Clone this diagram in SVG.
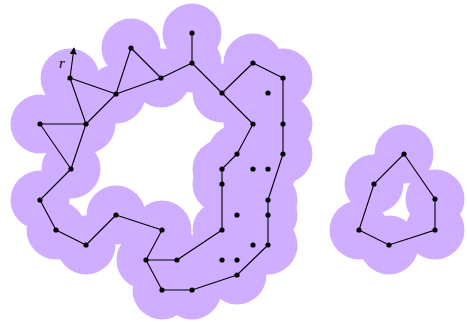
<svg xmlns="http://www.w3.org/2000/svg" width="467" height="322" viewBox="0 0 467 322">
<style>
.disc{fill:#cfaeff;stroke:none}
.e{stroke:#000;stroke-width:1.1;fill:none}
.pt{fill:#000}
.lbl{font-family:"Liberation Serif",serif;font-style:italic;font-size:15px;fill:#000}
</style>
<defs>
<marker id="ah" viewBox="0 0 10 10" refX="9" refY="5" markerWidth="7" markerHeight="7" orient="auto" markerUnits="userSpaceOnUse"><path d="M0,0 L10,5 L0,10 z" fill="#000"/></marker>
<g id="d"><circle r="29.5" class="disc"/></g>
</defs>
<g id="regions">
<use href="#d" x="70" y="78"/><use href="#d" x="131" y="48"/><use href="#d" x="116" y="94"/><use href="#d" x="86" y="124"/><use href="#d" x="40" y="124"/><use href="#d" x="161" y="78"/><use href="#d" x="192" y="33"/><use href="#d" x="192" y="63"/><use href="#d" x="222" y="93"/><use href="#d" x="253" y="63"/><use href="#d" x="283" y="78"/><use href="#d" x="268" y="93"/><use href="#d" x="253" y="124"/><use href="#d" x="283" y="124"/><use href="#d" x="237" y="154"/><use href="#d" x="283" y="154"/><use href="#d" x="222" y="169"/><use href="#d" x="253" y="169"/><use href="#d" x="268" y="169"/><use href="#d" x="222" y="184"/><use href="#d" x="268" y="200"/><use href="#d" x="237" y="215"/><use href="#d" x="268" y="215"/><use href="#d" x="222" y="230"/><use href="#d" x="162" y="230"/><use href="#d" x="253" y="245"/><use href="#d" x="268" y="245"/><use href="#d" x="146" y="260"/><use href="#d" x="177" y="260"/><use href="#d" x="222" y="260"/><use href="#d" x="237" y="260"/><use href="#d" x="237" y="275"/><use href="#d" x="162" y="290"/><use href="#d" x="192" y="290"/><use href="#d" x="71" y="169"/><use href="#d" x="40" y="200"/><use href="#d" x="56" y="230"/><use href="#d" x="86" y="245"/><use href="#d" x="116" y="215"/>
<use href="#d" x="404" y="154"/><use href="#d" x="374" y="184"/><use href="#d" x="435" y="199"/><use href="#d" x="359" y="230"/><use href="#d" x="435" y="230"/><use href="#d" x="389" y="245"/>
</g>
<g id="connectors" class="e">
<path d="M70,78 L116,94 M70,78 L86,124 M86,124 L116,94 M116,94 L131,48 M131,48 L161,78 M116,94 L161,78 M40,124 L86,124 M40,124 L71,169 M86,124 L71,169 M161,78 L192,63 M192,63 L192,33 M192,63 L222,93 M222,93 L253,63 M253,63 L283,78 M283,78 L283,124 M283,124 L283,154 M222,93 L253,124 M253,124 L237,154 M237,154 L222,169 M222,169 L222,184 M222,184 L222,230 M222,230 L177,260 M177,260 L146,260 M146,260 L162,230 M162,230 L116,215 M146,260 L162,290 M162,290 L192,290 M192,290 L237,275 M237,275 L268,245 M268,245 L268,215 M268,215 L268,200 M268,200 L283,154 M71,169 L40,200 M40,200 L56,230 M56,230 L86,245 M86,245 L116,215"/>
<path d="M404,154 L374,184 L359,230 L389,245 L435,230 L435,199 Z"/>
<line x1="70" y1="78" x2="74" y2="48" marker-end="url(#ah)"/>
</g>
<text class="lbl" x="59" y="68">r</text>
<g id="nodes" class="pt">
<g id="n1"><circle cx="70" cy="78" r="2.6"/></g>
<g id="n2"><circle cx="131" cy="48" r="2.6"/></g>
<g id="n3"><circle cx="116" cy="94" r="2.6"/></g>
<g id="n4"><circle cx="86" cy="124" r="2.6"/></g>
<g id="n5"><circle cx="40" cy="124" r="2.6"/></g>
<g id="n6"><circle cx="161" cy="78" r="2.6"/></g>
<g id="n7"><circle cx="192" cy="33" r="2.6"/></g>
<g id="n8"><circle cx="192" cy="63" r="2.6"/></g>
<g id="n9"><circle cx="222" cy="93" r="2.6"/></g>
<g id="n10"><circle cx="253" cy="63" r="2.6"/></g>
<g id="n11"><circle cx="283" cy="78" r="2.6"/></g>
<g id="n12"><circle cx="268" cy="93" r="2.6"/></g>
<g id="n13"><circle cx="253" cy="124" r="2.6"/></g>
<g id="n14"><circle cx="283" cy="124" r="2.6"/></g>
<g id="n15"><circle cx="237" cy="154" r="2.6"/></g>
<g id="n16"><circle cx="283" cy="154" r="2.6"/></g>
<g id="n17"><circle cx="222" cy="169" r="2.6"/></g>
<g id="n18"><circle cx="253" cy="169" r="2.6"/></g>
<g id="n19"><circle cx="268" cy="169" r="2.6"/></g>
<g id="n20"><circle cx="222" cy="184" r="2.6"/></g>
<g id="n21"><circle cx="268" cy="200" r="2.6"/></g>
<g id="n22"><circle cx="237" cy="215" r="2.6"/></g>
<g id="n23"><circle cx="268" cy="215" r="2.6"/></g>
<g id="n24"><circle cx="222" cy="230" r="2.6"/></g>
<g id="n25"><circle cx="162" cy="230" r="2.6"/></g>
<g id="n26"><circle cx="253" cy="245" r="2.6"/></g>
<g id="n27"><circle cx="268" cy="245" r="2.6"/></g>
<g id="n28"><circle cx="146" cy="260" r="2.6"/></g>
<g id="n29"><circle cx="177" cy="260" r="2.6"/></g>
<g id="n30"><circle cx="222" cy="260" r="2.6"/></g>
<g id="n31"><circle cx="237" cy="260" r="2.6"/></g>
<g id="n32"><circle cx="237" cy="275" r="2.6"/></g>
<g id="n33"><circle cx="162" cy="290" r="2.6"/></g>
<g id="n34"><circle cx="192" cy="290" r="2.6"/></g>
<g id="n35"><circle cx="71" cy="169" r="2.6"/></g>
<g id="n36"><circle cx="40" cy="200" r="2.6"/></g>
<g id="n37"><circle cx="56" cy="230" r="2.6"/></g>
<g id="n38"><circle cx="86" cy="245" r="2.6"/></g>
<g id="n39"><circle cx="116" cy="215" r="2.6"/></g>
<g id="m1"><circle cx="404" cy="154" r="2.6"/></g>
<g id="m2"><circle cx="374" cy="184" r="2.6"/></g>
<g id="m3"><circle cx="435" cy="199" r="2.6"/></g>
<g id="m4"><circle cx="359" cy="230" r="2.6"/></g>
<g id="m5"><circle cx="435" cy="230" r="2.6"/></g>
<g id="m6"><circle cx="389" cy="245" r="2.6"/></g>
</g>
</svg>
